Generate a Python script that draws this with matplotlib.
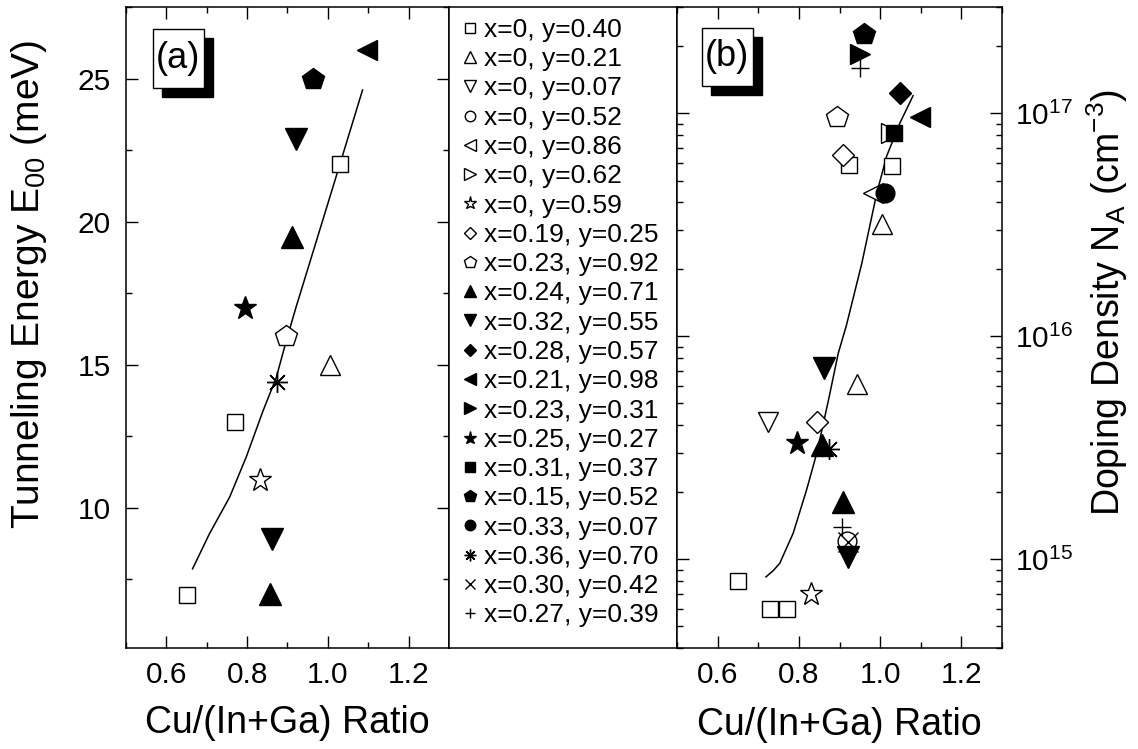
import numpy as np
import matplotlib
matplotlib.use('Agg')
import matplotlib.pyplot as plt
from matplotlib.patches import Rectangle
from matplotlib.ticker import MultipleLocator, LogLocator, NullFormatter

plt.rcParams['font.family'] = ['Liberation Sans', 'DejaVu Sans']
plt.rcParams['mathtext.fontset'] = 'custom'
plt.rcParams['mathtext.rm'] = 'Liberation Sans'
plt.rcParams['mathtext.it'] = 'Liberation Sans:italic'
plt.rcParams['mathtext.default'] = 'regular'

# sample compositions (legend)
labels = ['x=0, y=0.40', 'x=0, y=0.21', 'x=0, y=0.07', 'x=0, y=0.52',
          'x=0, y=0.86', 'x=0, y=0.62', 'x=0, y=0.59', 'x=0.19, y=0.25',
          'x=0.23, y=0.92', 'x=0.24, y=0.71', 'x=0.32, y=0.55', 'x=0.28, y=0.57',
          'x=0.21, y=0.98', 'x=0.23, y=0.31', 'x=0.25, y=0.27', 'x=0.31, y=0.37',
          'x=0.15, y=0.52', 'x=0.33, y=0.07', 'x=0.36, y=0.70', 'x=0.30, y=0.42',
          'x=0.27, y=0.39']

# panel (a): Cu/(In+Ga) ratio and tunneling energy E00 (meV)
ratio_a = [[1.030, 0.770, 0.650], [1.006], [], [], [], [], [0.831], [], [0.897],
           [0.911, 0.857], [0.921, 0.862], [], [1.098], [], [0.796], [], [0.9625],
           [], [0.874], [], []]
e00 = [[22.0, 13.0, 6.95], [15.0], [], [], [], [], [10.97], [], [16.0],
       [19.45, 7.0], [22.9, 8.9], [], [26.0], [], [17.0], [], [25.0],
       [], [14.4], [], []]

# panel (b): Cu/(In+Ga) ratio and doping density NA (cm^-3)
ratio_b = [[0.924, 1.029, 0.650, 0.730, 0.770], [1.005, 0.944], [0.724], [0.919],
           [0.983], [1.026], [0.829], [0.909, 0.844], [0.895], [0.856, 0.909],
           [0.862, 0.920], [1.049], [1.099], [0.951], [0.796], [1.033], [0.960],
           [1.011], [0.874], [0.922], [0.951, 0.905]]
na = [[5.9e16, 5.8e16, 8.0e14, 6.0e14, 6.0e14], [3.2e16, 6.1e15], [4.15e15], [1.21e15],
      [4.4e16], [8.2e16], [7.0e14], [6.5e16, 4.15e15], [9.6e16], [3.26e15, 1.81e15],
      [7.2e15, 1.02e15], [1.24e17], [9.6e16], [1.84e17], [3.34e15], [8.2e16], [2.27e17],
      [4.4e16], [3.12e15], [1.2e15], [1.60e17, 1.40e15]]

# fitted curves
fit_a_x = [0.665, 0.707, 0.757, 0.798, 0.839, 0.872, 0.897, 0.921, 0.970, 1.020, 1.086]
fit_a_y = [7.87, 9.10, 10.38, 11.78, 13.37, 14.54, 15.83, 17.0, 19.25, 21.55, 24.6]
fit_b_x = [0.719, 0.737, 0.753, 0.786, 0.819, 0.844, 0.873, 0.897, 0.917, 0.955,
           0.992, 1.016, 1.049, 1.081]
fit_b_y = [8.34e14, 8.9e14, 9.6e14, 1.31e15, 2.05e15, 2.99e15, 5.19e15, 8.41e15,
           1.12e16, 2.13e16, 4.41e16, 6.43e16, 9.08e16, 1.20e17]

markers = ['s', '^', 'v', 'o', '<', '>', '*', 'D', 'p',
           '^', 'v', 'D', '<', '>', '*', 's', 'p', 'o',
           (8, 2, 0), 'x', '+']
sizes = [12, 15, 15, 13.5, 15, 15, 17, 11, 16,
         15.5, 15.5, 11, 15, 15, 17, 12, 16, 13.5,
         15, 14, 13]
faces = ['white'] * 9 + ['black'] * 9 + ['none'] * 3

fig = plt.figure(figsize=(11.38, 7.49), dpi=100)
ax_a = fig.add_axes([0.1107, 0.1348, 0.2838, 0.8558])
ax_m = fig.add_axes([0.3946, 0.1348, 0.2004, 0.8558])
ax_b = fig.add_axes([0.5949, 0.1348, 0.2856, 0.8558])

ax_a.plot(fit_a_x, fit_a_y, color='black', lw=1.1, zorder=2)
ax_b.plot(fit_b_x, fit_b_y, color='black', lw=1.1, zorder=2)

handles = []
for i in range(len(labels)):
    style = dict(ls='none', marker=markers[i], ms=sizes[i], mfc=faces[i],
                 mec='black', mew=1.0, zorder=3)
    if ratio_a[i]:
        ax_a.plot(ratio_a[i], e00[i], **style)
    h, = ax_b.plot(ratio_b[i], na[i], **style)
    handles.append(h)

for ax in (ax_a, ax_b):
    ax.set_xlim(0.5, 1.3)
    ax.xaxis.set_minor_locator(MultipleLocator(0.1))
    ax.set_xticks([0.6, 0.8, 1.0, 1.2])
    ax.set_xticklabels(['0.6', '0.8', '1.0', '1.2'])
    ax.tick_params(which='both', direction='in', top=True, right=True, left=True,
                   width=1.0, labelsize=21.5)
    ax.tick_params(axis='x', which='both', pad=9.5)
    ax.tick_params(which='major', length=8.5)
    ax.tick_params(which='minor', length=4.3)
    for sp in ax.spines.values():
        sp.set_linewidth(1.1)

ax_a.set_xlabel('Cu/(In+Ga) Ratio', fontsize=27, labelpad=11)
ax_b.set_xlabel('Cu/(In+Ga) Ratio', fontsize=27, labelpad=13)

ax_a.set_ylim(5.1, 27.5)
ax_a.yaxis.set_major_locator(MultipleLocator(5))
ax_a.yaxis.set_minor_locator(MultipleLocator(2.5))
ax_a.tick_params(axis='y', which='both', pad=11)
ax_a.set_ylabel('Tunneling Energy E$_{00}$ (meV)', fontsize=28)
ax_a.yaxis.set_label_coords(-0.238, 0.568)

ax_b.set_yscale('log')
ax_b.set_ylim(4e14, 3e17)
ax_b.yaxis.set_major_locator(LogLocator(base=10))
ax_b.yaxis.set_minor_locator(LogLocator(base=10, subs=np.arange(2, 10)))
ax_b.yaxis.set_minor_formatter(NullFormatter())
ax_b.tick_params(axis='y', which='both', labelleft=False, labelright=True, pad=9.5)
ax_b.yaxis.set_label_position('right')
ax_b.set_ylabel('Doping Density N$_A$ (cm$^{-3}$)', fontsize=27)
ax_b.yaxis.set_label_coords(1.255, 0.54)

# panel tags with drop shadow
for ax, tag, box in ((ax_a, '(a)', (0.083, 0.873, 0.158, 0.092)),
                     (ax_b, '(b)', (0.076, 0.877, 0.157, 0.091))):
    x0, y0, w, h = box
    ax.add_patch(Rectangle((x0 + 0.028, y0 - 0.014), w, h, transform=ax.transAxes,
                           facecolor='black', edgecolor='black', zorder=5))
    ax.add_patch(Rectangle((x0, y0), w, h, transform=ax.transAxes,
                           facecolor='white', edgecolor='black', lw=1.0, zorder=6))
    ax.text(x0 + w / 2, y0 + h / 2, tag, transform=ax.transAxes, fontsize=26,
            ha='center', va='center', zorder=7)

# legend panel
ax_m.set_xticks([])
ax_m.set_yticks([])
for sp in ax_m.spines.values():
    sp.set_linewidth(1.1)
ax_m.legend(handles, labels, loc='upper left', bbox_to_anchor=(0.044, 0.983),
            frameon=False, fontsize=19, markerscale=0.56, handlelength=0.8,
            handletextpad=0.15, labelspacing=0.2, borderpad=0, borderaxespad=0)

fig.savefig('out.png', dpi=100)
